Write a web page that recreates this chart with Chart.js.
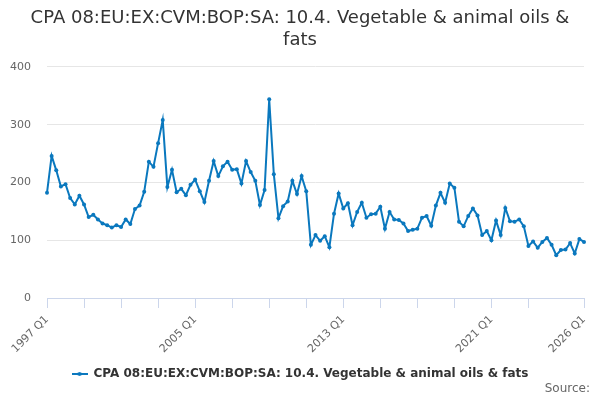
<!DOCTYPE html>
<html>
<head>
<meta charset="utf-8">
<script src="https://cdn.jsdelivr.net/npm/chart.js@4"></script>
<style>
  html, body { margin: 0; padding: 0; background: #fff; }
  #graph { width: 600px; height: 400px; }
</style>
</head>
<body>
<div id="graph"><canvas id="chartCanvas" width="600" height="400"></canvas></div>
<script>
// Données (trimestriel, 1997 Q1 -> 2026 Q1)
var startYear = 1997;
var values = [
  182, 246, 221, 193, 197, 173, 162, 177, 162, 140, 144, 136, 129, 126, 122, 126,
  123, 136, 128, 154, 160, 184, 236, 227, 268, 308, 192, 222, 183, 189, 178, 196,
  205, 185, 166, 203, 237, 211, 228, 236, 222, 223, 198, 237, 218, 203, 161, 187,
  344, 214, 138, 159, 167, 203, 180, 211, 185, 92, 109, 99, 107, 88, 146, 181,
  155, 164, 126, 149, 165, 139, 145, 146, 158, 120, 149, 136, 135, 129, 116, 118,
  120, 139, 142, 125, 160, 182, 165, 198, 191, 132, 124, 142, 155, 143, 109, 116,
  100, 134, 109, 156, 133, 132, 136, 124, 90, 98, 87, 97, 104, 92, 74, 83,
  84, 95, 77, 102, 97
];
var yTicks = [0, 100, 200, 300, 400];
var titleLines = ['CPA 08:EU:EX:CVM:BOP:SA: 10.4. Vegetable & animal oils &', 'fats'];
var seriesName = 'CPA 08:EU:EX:CVM:BOP:SA: 10.4. Vegetable & animal oils & fats';

// Libellés des trimestres
var labels = values.map(function (v, i) {
  return (startYear + Math.floor(i / 4)) + ' Q' + (i % 4 + 1);
});

var lineColor = '#0a78be';

// Petit symbole de légende : trait + point
var legendIcon = document.createElement('canvas');
legendIcon.width = 16;
legendIcon.height = 8;
var lctx = legendIcon.getContext('2d');
lctx.strokeStyle = lineColor;
lctx.lineWidth = 2;
lctx.beginPath();
lctx.moveTo(0, 4);
lctx.lineTo(16, 4);
lctx.stroke();
lctx.fillStyle = lineColor;
lctx.beginPath();
lctx.arc(8, 4, 2, 0, Math.PI * 2);
lctx.fill();

// Texte "Source:" en bas à droite
var sourcePlugin = {
  id: 'sourceText',
  afterDraw: function (chart) {
    var ctx = chart.ctx;
    ctx.save();
    ctx.font = '12px "DejaVu Sans", sans-serif';
    ctx.fillStyle = '#666666';
    ctx.textAlign = 'right';
    ctx.textBaseline = 'middle';
    ctx.fillText('Source:', 590, 389);
    ctx.restore();
  }
};

var canvas = document.getElementById('chartCanvas');
var chart = new Chart(canvas, {
  type: 'line',
  data: {
    labels: labels,
    datasets: [{
      label: seriesName,
      data: values,
      borderColor: lineColor,
      backgroundColor: lineColor,
      borderWidth: 2,
      pointRadius: 2,
      pointHoverRadius: 3,
      pointBackgroundColor: lineColor,
      pointBorderWidth: 0,
      tension: 0,
      fill: false
    }]
  },
  options: {
    responsive: false,
    animation: false,
    layout: { padding: { left: 0, right: 0, top: 0, bottom: 10 } },
    plugins: {
      title: {
        display: true,
        text: titleLines,
        color: '#333333',
        font: { family: '"DejaVu Sans", sans-serif', size: 18, weight: 'normal', lineHeight: 1.22 },
        padding: { top: 7, bottom: 16 }
      },
      legend: {
        display: true,
        position: 'bottom',
        labels: {
          color: '#333333',
          font: { family: '"DejaVu Sans", sans-serif', size: 12, weight: 'bold' },
          usePointStyle: true,
          pointStyle: legendIcon,
          pointStyleWidth: 16,
          padding: 10
        }
      },
      tooltip: { enabled: false }
    },
    scales: {
      x: {
        offset: false,
        grid: {
          display: true,
          drawOnChartArea: false,
          drawTicks: true,
          tickLength: 10,
          color: '#ccd6eb'
        },
        border: { display: true, color: '#ccd6eb', width: 1 },
        ticks: {
          autoSkip: false,
          minRotation: 45,
          maxRotation: 45,
          padding: 5,
          color: '#666666',
          font: { family: '"DejaVu Sans", sans-serif', size: 11 },
          callback: function (value, index) {
            if (index === labels.length - 1 || index % 32 === 0) return labels[index];
            if (index % 8 === 0 && index < labels.length - 8) return '';
            return null;
          }
        },
        afterFit: function (scale) { scale.height = 60; }
      },
      y: {
        min: yTicks[0],
        max: yTicks[yTicks.length - 1],
        grid: { color: '#e6e6e6', drawTicks: false },
        border: { display: false },
        ticks: {
          stepSize: 100,
          padding: 16,
          color: '#666666',
          font: { family: '"DejaVu Sans", sans-serif', size: 11 }
        },
        afterFit: function (scale) { scale.width = 47; }
      },
      // axe vide à droite, juste pour la marge
      yRight: {
        position: 'right',
        display: true,
        grid: { display: false },
        border: { display: false },
        ticks: { display: false },
        afterFit: function (scale) { scale.width = 16; }
      }
    }
  },
  plugins: [sourcePlugin]
});
</script>
</body>
</html>
